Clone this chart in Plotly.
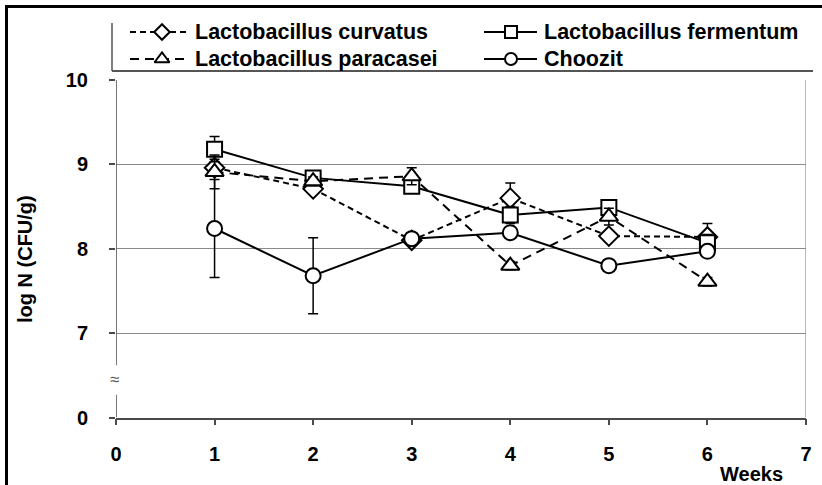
import plotly.graph_objects as go

# ---- data -------------------------------------------------------------
weeks = [1, 2, 3, 4, 5, 6]

curvatus = [8.96, 8.71, 8.10, 8.60, 8.15, 8.14]
fermentum = [9.18, 8.84, 8.74, 8.40, 8.49, 8.07]
paracasei = [8.91, 8.80, 8.86, 7.80, 8.38, 7.61]
choozit = [8.24, 7.68, 8.12, 8.19, 7.80, 7.97]

curvatus_err = [0.10, 0.05, 0.05, 0.18, 0.05, 0.16]
fermentum_err = [0.15, 0.05, 0.08, 0.10, 0.08, 0.10]
paracasei_err = [0.20, 0.05, 0.10, 0.05, 0.10, 0.05]
choozit_err = [0.58, 0.45, 0.05, 0.05, 0.05, 0.05]

x_ticks = [0, 1, 2, 3, 4, 5, 6, 7]
# the value axis is broken: the bottom position stands for 0, the rest is 7..10
y_tickvals = [6, 7, 8, 9, 10]
y_ticktext = ["0", "7", "8", "9", "10"]

W, H = 822, 485
FONT = "Liberation Sans, Arial, sans-serif"
AXIS_GREY = "#4a4a4a"
GRID_GREY = "#8a8a8a"


def px(x):
    return x / W


def py(y):
    return 1 - y / H


series = [
    ("Lactobacillus curvatus", curvatus, curvatus_err, "diamond", 15, "6px,4px"),
    ("Lactobacillus fermentum", fermentum, fermentum_err, "square", 15, "solid"),
    ("Lactobacillus paracasei", paracasei, paracasei_err, "triangle-up", 16, "9px,6px"),
    ("Choozit", choozit, choozit_err, "circle", 15, "solid"),
]

fig = go.Figure()

for name, vals, err, sym, size, dash in series:
    fig.add_trace(go.Scatter(
        x=weeks, y=vals, name=name, mode="lines+markers",
        line=dict(color="black", width=2, dash=dash),
        marker=dict(symbol=sym, size=size, color="white",
                    line=dict(color="black", width=2)),
        error_y=dict(type="data", array=err, visible=True, color="black",
                     thickness=1.5, width=5),
        showlegend=False, cliponaxis=False,
    ))

annotations = []

# ---- legend drawn on a full-figure overlay subplot ----------------------
legend_rows = [
    # (series index, line x0, line x1, marker x, row y, text x)
    (0, 130, 190, 162, 32, 193),
    (1, 484, 537, 511, 32, 542),
    (2, 130, 190, 162, 59, 193),
    (3, 484, 537, 511, 59, 542),
]
for idx, x0, x1, mx, ry, tx in legend_rows:
    name, _, _, sym, size, dash = series[idx]
    fig.add_trace(go.Scatter(
        x=[x0, x1], y=[ry, ry], mode="lines", xaxis="x2", yaxis="y2",
        line=dict(color="black", width=2, dash=dash),
        showlegend=False, hoverinfo="skip",
    ))
    fig.add_trace(go.Scatter(
        x=[mx], y=[ry], mode="markers", xaxis="x2", yaxis="y2",
        marker=dict(symbol=sym, size=size - 3, color="white",
                    line=dict(color="black", width=2)),
        showlegend=False, hoverinfo="skip",
    ))
    annotations.append(dict(
        x=px(tx), y=py(ry), xref="paper", yref="paper", text=name,
        showarrow=False, xanchor="left", yanchor="middle",
        font=dict(family=FONT, size=21.5, color="black", weight="bold"),
    ))

shapes = [
    # outer frame (left and top edges visible)
    dict(type="rect", xref="paper", yref="paper",
         x0=px(6.5), x1=px(W + 20), y0=py(H + 20), y1=py(6.5),
         line=dict(color="black", width=3)),
    # legend box edges
    dict(type="line", xref="paper", yref="paper",
         x0=px(112), x1=px(112), y0=py(23), y1=py(71),
         line=dict(color="#555555", width=1.5)),
    dict(type="line", xref="paper", yref="paper",
         x0=px(112), x1=px(813), y0=py(71), y1=py(71),
         line=dict(color="#555555", width=2)),
    # right edge of the plot area
    dict(type="line", xref="x", yref="y", x0=7, x1=7, y0=6, y1=10,
         line=dict(color=GRID_GREY, width=1.2)),
    # broken value axis
    dict(type="line", xref="x", yref="y", x0=0, x1=0, y0=6.62, y1=10,
         line=dict(color=AXIS_GREY, width=1.5)),
    dict(type="line", xref="x", yref="y", x0=0, x1=0, y0=6, y1=6.27,
         line=dict(color=AXIS_GREY, width=1.5)),
]

annotations += [
    dict(x=0, y=6.45, xref="x", yref="y", text="≈", showarrow=False,
         xanchor="center", yanchor="middle", xshift=-2,
         font=dict(family=FONT, size=17, color="#555555")),
    dict(x=px(25), y=py(259), xref="paper", yref="paper", text="log N (CFU/g)",
         textangle=-90, showarrow=False, xanchor="center", yanchor="middle",
         font=dict(family=FONT, size=20, color="black", weight="bold")),
    dict(x=px(751), y=py(474), xref="paper", yref="paper", text="Weeks",
         showarrow=False, xanchor="center", yanchor="middle",
         font=dict(family=FONT, size=20, color="black", weight="bold")),
]

tick_font = dict(family=FONT, size=20, color="black", weight="bold")

fig.update_layout(
    width=W, height=H,
    margin=dict(l=0, r=0, t=0, b=0, pad=0, autoexpand=False),
    paper_bgcolor="white", plot_bgcolor="rgba(0,0,0,0)",
    showlegend=False,
    xaxis=dict(
        domain=[px(116), px(806)], range=[0, 7],
        tickmode="array", tickvals=x_ticks, ticktext=[str(t) for t in x_ticks],
        showgrid=False, zeroline=False,
        showline=True, linecolor=AXIS_GREY, linewidth=1.5,
        ticks="outside", ticklen=6, tickcolor=AXIS_GREY, tickwidth=1.5,
        tickfont=tick_font, ticklabelstandoff=12,
    ),
    yaxis=dict(
        domain=[1 - 417.5 / H, 1 - 80 / H], range=[6, 10],
        tickmode="array", tickvals=y_tickvals, ticktext=y_ticktext,
        showgrid=True, gridcolor=GRID_GREY, gridwidth=1.2,
        zeroline=False, showline=False,
        ticks="outside", ticklen=6, tickcolor=AXIS_GREY, tickwidth=1.5,
        tickfont=tick_font, ticklabelstandoff=17,
    ),
    xaxis2=dict(domain=[0, 1], range=[0, W], visible=False, fixedrange=True,
                anchor="y2"),
    yaxis2=dict(domain=[0, 1], range=[H, 0], visible=False, fixedrange=True,
                anchor="x2"),
    shapes=shapes,
    annotations=annotations,
)

fig.write_html("out.html")
